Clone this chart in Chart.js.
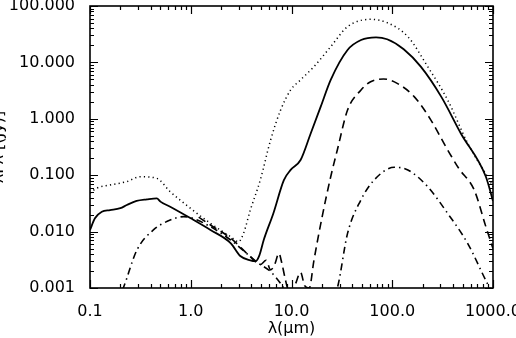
<!DOCTYPE html>
<html>
<head>
<meta charset="utf-8">
<script src="https://cdn.jsdelivr.net/npm/chart.js@4"></script>
<style>
  body { margin: 0; background: #fff; }
  #wrap { width: 516px; height: 338px; }
</style>
</head>
<body>
<div id="wrap"><canvas id="sed" width="516" height="338"></canvas></div>
<script>
/* ==================== DATA ==================== */
const xTickValues = [0.1, 1, 10, 100, 1000];
const xTickLabels = ["0.1", "1.0", "10.0", "100.0", "1000.0"];
const yTickValues = [0.001, 0.01, 0.1, 1, 10, 100];
const yTickLabels = ["0.001", "0.010", "0.100", "1.000", "10.000", "100.000"];

// total (solid)
const solidLam = [0.1, 0.112, 0.131, 0.158, 0.2, 0.232, 0.29, 0.367, 0.46, 0.5, 0.625, 1.0, 1.57, 2.5, 3.1, 3.9, 4.4, 4.8, 5.3, 6.6, 8.4, 9.8, 12.3, 15.5, 19.5, 24.5, 36, 49, 69, 89, 130, 192, 306, 480, 850, 1000];
const solidF   = [0.0107, 0.0172, 0.0225, 0.024, 0.026, 0.0296, 0.0349, 0.0373, 0.0389, 0.034, 0.0276, 0.0172, 0.0107, 0.0062, 0.0037, 0.0031, 0.003, 0.0038, 0.0071, 0.021, 0.082, 0.124, 0.186, 0.55, 1.64, 4.9, 16.6, 24.9, 27.8, 25.7, 17.1, 8.4, 2.47, 0.55, 0.094, 0.035];

// upper model (dotted)
const dottedLam = [0.1, 0.117, 0.158, 0.232, 0.314, 0.46, 0.625, 0.99, 1.57, 2.49, 2.98, 3.34, 3.9, 4.9, 6.2, 7.8, 9.8, 12.3, 16.7, 24.5, 36, 61, 89, 143, 225, 355, 560, 958, 1000];
const dottedF   = [0.048, 0.059, 0.067, 0.077, 0.094, 0.088, 0.051, 0.026, 0.014, 0.0081, 0.0066, 0.0093, 0.024, 0.082, 0.42, 1.43, 3.24, 4.9, 8.4, 19, 43, 58, 50.6, 28.6, 8.4, 2.15, 0.37, 0.072, 0.062];

// warm dust (dashed)
const dashedLam = [1.2, 1.57, 2.5, 3.9, 4.9, 5.6, 6.2, 6.8, 7.5, 8.0, 8.7, 9.3, 10, 11, 12.3, 13.5, 15, 16.7, 20.1, 24.5, 28.5, 36, 49, 61, 82, 112, 165, 242, 340, 390, 460, 650, 850, 1000];
const dashedF   = [0.018, 0.0131, 0.0076, 0.0036, 0.0026, 0.0031, 0.0021, 0.0026, 0.0041, 0.0028, 0.0014, 0.0009, 0.0008, 0.0012, 0.0019, 0.0011, 0.001, 0.0031, 0.018, 0.094, 0.28, 1.43, 3.25, 4.55, 5.08, 4.25, 2.47, 0.95, 0.32, 0.21, 0.13, 0.055, 0.0122, 0.005];

// stars + cold dust (dash-dot)
const dashdotLam = [0.18, 0.214, 0.292, 0.426, 0.625, 0.85, 1.07, 1.57, 2.49, 3.9, 4.5, 6.2, 7.8, 9.5, 20, 28.5, 36, 48.7, 66, 105, 143, 225, 355, 560, 880, 1000];
const dashdotF   = [0.0005, 0.001, 0.0047, 0.0107, 0.016, 0.0184, 0.017, 0.0122, 0.0071, 0.0036, 0.0029, 0.00195, 0.0012, 0.0007, 0.0003, 0.001, 0.0093, 0.036, 0.082, 0.138, 0.124, 0.0625, 0.021, 0.0062, 0.0012, 0.0008];

const pts = (lam, f) => lam.map((v, i) => ({ x: v, y: f[i] }));

/* ==================== AXIS DECORATION ==================== */
// IDL-style frame with inward ticks on all four sides
const frameTicks = {
  id: "frameTicks",
  afterDraw(chart) {
    const { ctx, chartArea: a, scales: { x, y } } = chart;
    ctx.save();
    ctx.strokeStyle = "#000";
    ctx.lineWidth = 1.6;
    ctx.strokeRect(a.left, a.top, a.right - a.left, a.bottom - a.top);
    ctx.lineWidth = 1.2;
    ctx.beginPath();
    for (let d = -1; d <= 3; d++) {
      for (let m = 1; m <= 9; m++) {
        const v = m * Math.pow(10, d);
        if (v > 1000 + 1e-9) break;
        const px = Math.round(x.getPixelForValue(v)) + 0.5;
        const len = m === 1 ? 8 : 4;
        ctx.moveTo(px, a.bottom); ctx.lineTo(px, a.bottom - len);
        ctx.moveTo(px, a.top); ctx.lineTo(px, a.top + len);
      }
    }
    for (let d = -3; d <= 2; d++) {
      for (let m = 1; m <= 9; m++) {
        const v = m * Math.pow(10, d);
        if (v > 100 + 1e-9) break;
        const py = Math.round(y.getPixelForValue(v)) + 0.5;
        const len = m === 1 ? 8 : 4;
        ctx.moveTo(a.left, py); ctx.lineTo(a.left + len, py);
        ctx.moveTo(a.right, py); ctx.lineTo(a.right - len, py);
      }
    }
    ctx.stroke();

    // y title, mostly off the left edge like the original
    ctx.translate(3, (a.top + a.bottom) / 2);
    ctx.rotate(-Math.PI / 2);
    ctx.fillStyle = "#000";
    ctx.font = "16px 'DejaVu Sans'";
    ctx.textAlign = "center";
    ctx.textBaseline = "alphabetic";
    ctx.fillText("λF\u03bb [(Jy)]", 0, 0);
    ctx.restore();
  }
};

/* ==================== CHART ==================== */
const tickFont = { family: "'DejaVu Sans'", size: 16 };

new Chart(document.getElementById("sed"), {
  type: "line",
  data: {
    datasets: [
      { data: pts(dottedLam, dottedF), borderColor: "#000", borderWidth: 1.5, borderDash: [1.2, 3.2] },
      { data: pts(solidLam, solidF), borderColor: "#000", borderWidth: 1.8 },
      { data: pts(dashedLam, dashedF), borderColor: "#000", borderWidth: 1.6, borderDash: [8, 5] },
      { data: pts(dashdotLam, dashdotF), borderColor: "#000", borderWidth: 1.6, borderDash: [7, 4, 1.5, 4] }
    ]
  },
  options: {
    responsive: false,
    animation: false,
    elements: {
      point: { radius: 0 },
      line: { cubicInterpolationMode: "monotone", fill: false }
    },
    layout: { padding: { top: 6, right: 23, left: 0, bottom: 0 } },
    plugins: { legend: { display: false }, tooltip: { enabled: false } },
    scales: {
      x: {
        type: "logarithmic",
        min: 0.1,
        max: 1000,
        afterBuildTicks: s => { s.ticks = xTickValues.map(v => ({ value: v })); },
        afterFit: s => { s.height = 50; s.paddingLeft = 0; s.paddingRight = 0; },
        ticks: {
          autoSkip: false,
          maxRotation: 0,
          padding: 6,
          color: "#000",
          font: tickFont,
          callback: (v, i) => xTickLabels[i]
        },
        grid: { display: false },
        border: { display: false },
        title: { display: true, text: "λ(μm)", color: "#000", font: tickFont, padding: { top: 0, bottom: 0 } }
      },
      y: {
        type: "logarithmic",
        min: 0.001,
        max: 100,
        afterBuildTicks: s => { s.ticks = yTickValues.map(v => ({ value: v })); },
        afterFit: s => { s.width = 90; s.paddingTop = 0; s.paddingBottom = 0; },
        ticks: {
          autoSkip: false,
          padding: 7,
          color: "#000",
          font: tickFont,
          callback: (v, i) => yTickLabels[i]
        },
        grid: { display: false },
        border: { display: false }
      }
    }
  },
  plugins: [frameTicks]
});
</script>
</body>
</html>
